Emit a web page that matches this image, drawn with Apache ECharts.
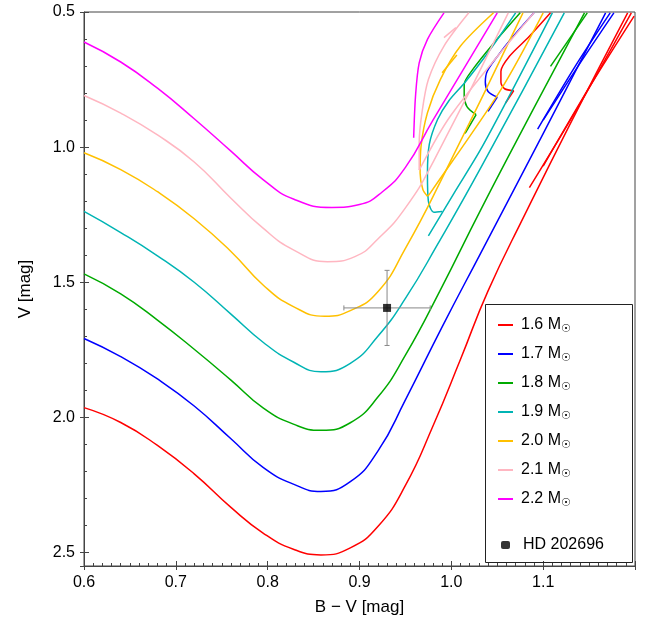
<!DOCTYPE html>
<html><head><meta charset="utf-8">
<script src="https://cdn.jsdelivr.net/npm/echarts@6/dist/echarts.min.js"></script>
<style>html,body{margin:0;padding:0;background:#fff}#c{width:649px;height:625px}</style>
</head><body><div id="c"></div>
<script>
// ---- data (B-V, V) ----
const masses = ['1.6', '1.7', '1.8', '1.9', '2.0', '2.1', '2.2'];
const colors = ['#ff0000', '#0000ff', '#00aa00', '#00b4b4', '#ffc000', '#ffb6c1', '#ff00ff'];
const xTicks = [0.6, 0.7, 0.8, 0.9, 1.0, 1.1];
const yTicks = [0.5, 1.0, 1.5, 2.0, 2.5];

// first segment of every track: subgiant branch + red giant branch
const track16 = [
  [[0.600,1.964],[0.640,2.019],[0.680,2.104],[0.720,2.209],[0.760,2.333],[0.795,2.428],[0.828,2.488],[0.858,2.509],[0.890,2.483],[0.920,2.404],[0.950,2.252],[0.980,2.032],[1.010,1.785],[1.040,1.532],[1.080,1.250],[1.130,0.910],[1.192,0.503]],
  [[1.108,0.503],[1.085,0.590],[1.063,0.665],[1.054,0.720],[1.054,0.760],[1.058,0.784],[1.068,0.791]],
  [[1.068,0.791],[1.059,0.837]],
  [[1.085,1.150],[1.140,0.840],[1.196,0.503]],
  [[1.100,1.070],[1.150,0.780],[1.199,0.515]]
];
const track17 = [
  [[0.600,1.708],[0.640,1.775],[0.680,1.858],[0.720,1.958],[0.760,2.079],[0.795,2.185],[0.828,2.247],[0.858,2.274],[0.890,2.238],[0.920,2.125],[0.950,1.935],[0.990,1.665],[1.032,1.392],[1.100,0.950],[1.168,0.503]],
  [[1.090,0.503],[1.065,0.600],[1.050,0.665],[1.039,0.720],[1.037,0.760],[1.040,0.794],[1.050,0.815]],
  [[1.050,0.815],[1.040,0.868]],
  [[1.094,0.933],[1.135,0.700],[1.173,0.503]],
  [[1.100,0.900],[1.140,0.690],[1.177,0.503]]
];
const track18 = [
  [[0.600,1.469],[0.640,1.543],[0.680,1.640],[0.720,1.748],[0.760,1.862],[0.795,1.965],[0.828,2.025],[0.858,2.048],[0.890,2.020],[0.920,1.925],[0.950,1.770],[0.988,1.529],[1.032,1.232],[1.090,0.855],[1.145,0.503]],
  [[1.075,0.503],[1.045,0.620],[1.023,0.714],[1.014,0.769],[1.014,0.810],[1.017,0.850],[1.027,0.880]],
  [[1.027,0.880],[1.015,0.949]],
  [[1.108,0.701],[1.148,0.503]]
];
const track19 = [
  [[0.600,1.238],[0.640,1.316],[0.680,1.402],[0.720,1.500],[0.760,1.618],[0.795,1.722],[0.828,1.795],[0.858,1.831],[0.890,1.800],[0.920,1.700],[0.950,1.560],[0.985,1.360],[1.032,1.077],[1.123,0.503]],
  [[1.070,0.503],[1.040,0.650],[1.015,0.760],[0.997,0.830],[0.985,0.898],[0.976,0.990],[0.974,1.100],[0.975,1.200],[0.981,1.241],[0.990,1.238]],
  [[0.975,1.328],[1.003,1.170],[1.035,0.990],[1.110,0.503]]
];
const track20 = [
  [[0.600,1.021],[0.640,1.083],[0.680,1.165],[0.720,1.265],[0.760,1.386],[0.795,1.510],[0.828,1.590],[0.862,1.626],[0.890,1.605],[0.920,1.535],[0.950,1.375],[0.990,1.115],[1.078,0.503]],
  [[1.046,0.503],[1.010,0.626],[0.988,0.750],[0.974,0.873],[0.967,0.997],[0.966,1.096],[0.969,1.157],[0.974,1.182]],
  [[0.974,1.182],[0.977,1.170],[1.054,0.787],[1.100,0.503]],
  [[0.990,0.725],[1.006,0.659]]
];
const track21 = [
  [[0.600,0.809],[0.640,0.874],[0.680,0.955],[0.720,1.055],[0.760,1.189],[0.795,1.300],[0.828,1.380],[0.865,1.424],[0.895,1.405],[0.920,1.340],[0.950,1.225],[0.981,1.050],[1.062,0.503]],
  [[1.019,0.503],[0.992,0.626],[0.975,0.750],[0.968,0.873],[0.965,0.984],[0.965,1.085]],
  [[0.965,1.085],[1.000,0.880],[1.090,0.503]],
  [[0.992,0.595],[1.005,0.558]]
];
const track22 = [
  [[0.600,0.611],[0.640,0.685],[0.680,0.782],[0.720,0.895],[0.760,1.015],[0.795,1.120],[0.828,1.192],[0.870,1.223],[0.900,1.212],[0.925,1.165],[0.950,1.075],[0.980,0.900],[1.050,0.503]],
  [[0.992,0.503],[0.974,0.601],[0.965,0.688],[0.961,0.811],[0.959,0.965]]
];
const tracks = [track16, track17, track18, track19, track20, track21, track22];

const starName = 'HD 202696';
const starBV = 0.930, starV = 1.595;
const starErrBV = 0.047, starErrV = 0.139;

// ---- chart ----
const FONT = 'Liberation Sans';
const xMin = 0.6, xMax = 1.2, yMin = 0.5, yMax = 2.55;

const series = [];
masses.forEach((m, i) => {
  tracks[i].forEach((seg, k) => {
    series.push({
      name: m, type: 'line', data: seg, showSymbol: false, symbol: 'none',
      smooth: k === 0 ? 0.5 : 0.3, clip: true,
      lineStyle: { color: colors[i], width: 1.5 }, itemStyle: { color: colors[i] },
      emphasis: { disabled: true }, silent: true, z: 2
    });
  });
});
series.push({
  name: 'errbar', type: 'custom', silent: true, z: 3,
  data: [[starBV, starV, starErrBV, starErrV]],
  renderItem: (params, api) => {
    const x = api.value(0), y = api.value(1), ex = api.value(2), ey = api.value(3);
    const l = api.coord([x - ex, y]), r = api.coord([x + ex, y]);
    const t = api.coord([x, y - ey]), b = api.coord([x, y + ey]);
    const st = { stroke: '#888', lineWidth: 1 };
    const ln = (x1, y1, x2, y2) => ({ type: 'line', shape: { x1, y1, x2, y2 }, style: st });
    return { type: 'group', children: [
      ln(l[0], l[1], r[0], r[1]), ln(t[0], t[1], b[0], b[1]),
      ln(l[0], l[1] - 2.5, l[0], l[1] + 2.5), ln(r[0], r[1] - 2.5, r[0], r[1] + 2.5),
      ln(t[0] - 2.5, t[1], t[0] + 2.5, t[1]), ln(b[0] - 2.5, b[1], b[0] + 2.5, b[1])
    ] };
  }
});
series.push({
  name: starName, type: 'scatter', data: [[starBV, starV]], symbol: 'rect', symbolSize: 8,
  itemStyle: { color: '#000' }, z: 4, silent: true
});

const chart = echarts.init(document.getElementById('c'), null, { renderer: 'canvas' });
const baseX = { type: 'value', min: xMin, max: xMax, interval: 0.1, gridIndex: 0, position: 'bottom' };
const baseY = { type: 'value', min: yMin, max: yMax, interval: 0.5, inverse: true, gridIndex: 0, position: 'left' };
chart.setOption({
  animation: false,
  textStyle: { fontFamily: FONT },
  grid: { left: 84, top: 12, right: 14, bottom: 59, show: true, borderColor: '#444', borderWidth: 1, containLabel: false },
  xAxis: [
    Object.assign({}, baseX, {
      name: 'B \u2212 V [mag]', nameLocation: 'middle', nameGap: 33,
      nameTextStyle: { fontSize: 17, color: '#000', fontFamily: FONT },
      axisLine: { lineStyle: { color: '#444', width: 1 } },
      axisTick: { show: true, inside: true, length: 5, lineStyle: { color: '#444' } },
      minorTick: { show: true, splitNumber: 10, length: 3, lineStyle: { color: '#444' } },
      splitLine: { show: false }, minorSplitLine: { show: false },
      axisLabel: { fontSize: 16, color: '#000', margin: 9, showMaxLabel: false, fontFamily: FONT,
        formatter: v => (xTicks.some(t => Math.abs(t - v) < 1e-6) ? v.toFixed(1) : '') }
    }),
    Object.assign({}, baseX, {
      axisLine: { show: false }, axisLabel: { show: false }, splitLine: { show: false },
      axisTick: { show: true, inside: false, length: 4, lineStyle: { color: '#444' } }
    })
  ],
  yAxis: [
    Object.assign({}, baseY, {
      name: 'V [mag]', nameLocation: 'middle', nameGap: 50, nameRotate: 90,
      nameTextStyle: { fontSize: 17, color: '#000', fontFamily: FONT },
      axisLine: { lineStyle: { color: '#444', width: 1 } },
      axisTick: { show: true, inside: true, length: 5, lineStyle: { color: '#444' } },
      minorTick: { show: true, splitNumber: 5, length: 3, lineStyle: { color: '#444' } },
      splitLine: { show: false }, minorSplitLine: { show: false },
      axisLabel: { fontSize: 16, color: '#000', margin: 9, showMaxLabel: false, fontFamily: FONT,
        formatter: v => (yTicks.some(t => Math.abs(t - v) < 1e-6) ? v.toFixed(1) : '') }
    }),
    Object.assign({}, baseY, {
      axisLine: { show: false }, axisLabel: { show: false }, splitLine: { show: false },
      axisTick: { show: true, inside: false, length: 4, lineStyle: { color: '#444' } }
    })
  ],
  legend: [
    {
      data: masses, orient: 'vertical', left: 493, top: 312, itemWidth: 15, itemHeight: 2, icon: 'rect',
      itemGap: 11, selectedMode: false,
      formatter: n => '{n|' + n + ' M}{s|\u2609}',
      textStyle: { rich: {
        n: { fontSize: 16, color: '#000', fontFamily: FONT, lineHeight: 20, padding: [0, 0, 0, 3] },
        s: { fontSize: 11, color: '#000', fontFamily: 'DejaVu Sans', lineHeight: 8, verticalAlign: 'bottom' }
      } }
    },
    {
      data: [{ name: starName, icon: 'roundRect' }], orient: 'vertical', left: 496, top: 532, itemWidth: 9, itemHeight: 8,
      selectedMode: false,
      textStyle: { fontSize: 16, color: '#000', fontFamily: FONT, padding: [0, 0, 0, 8] }
    }
  ],
  graphic: [{
    type: 'rect', left: 483, top: 302, shape: { width: 147, height: 258 },
    style: { fill: 'none', stroke: '#222', lineWidth: 1 }, silent: true, z: 100
  }],
  series: series
});
</script>
</body></html>
